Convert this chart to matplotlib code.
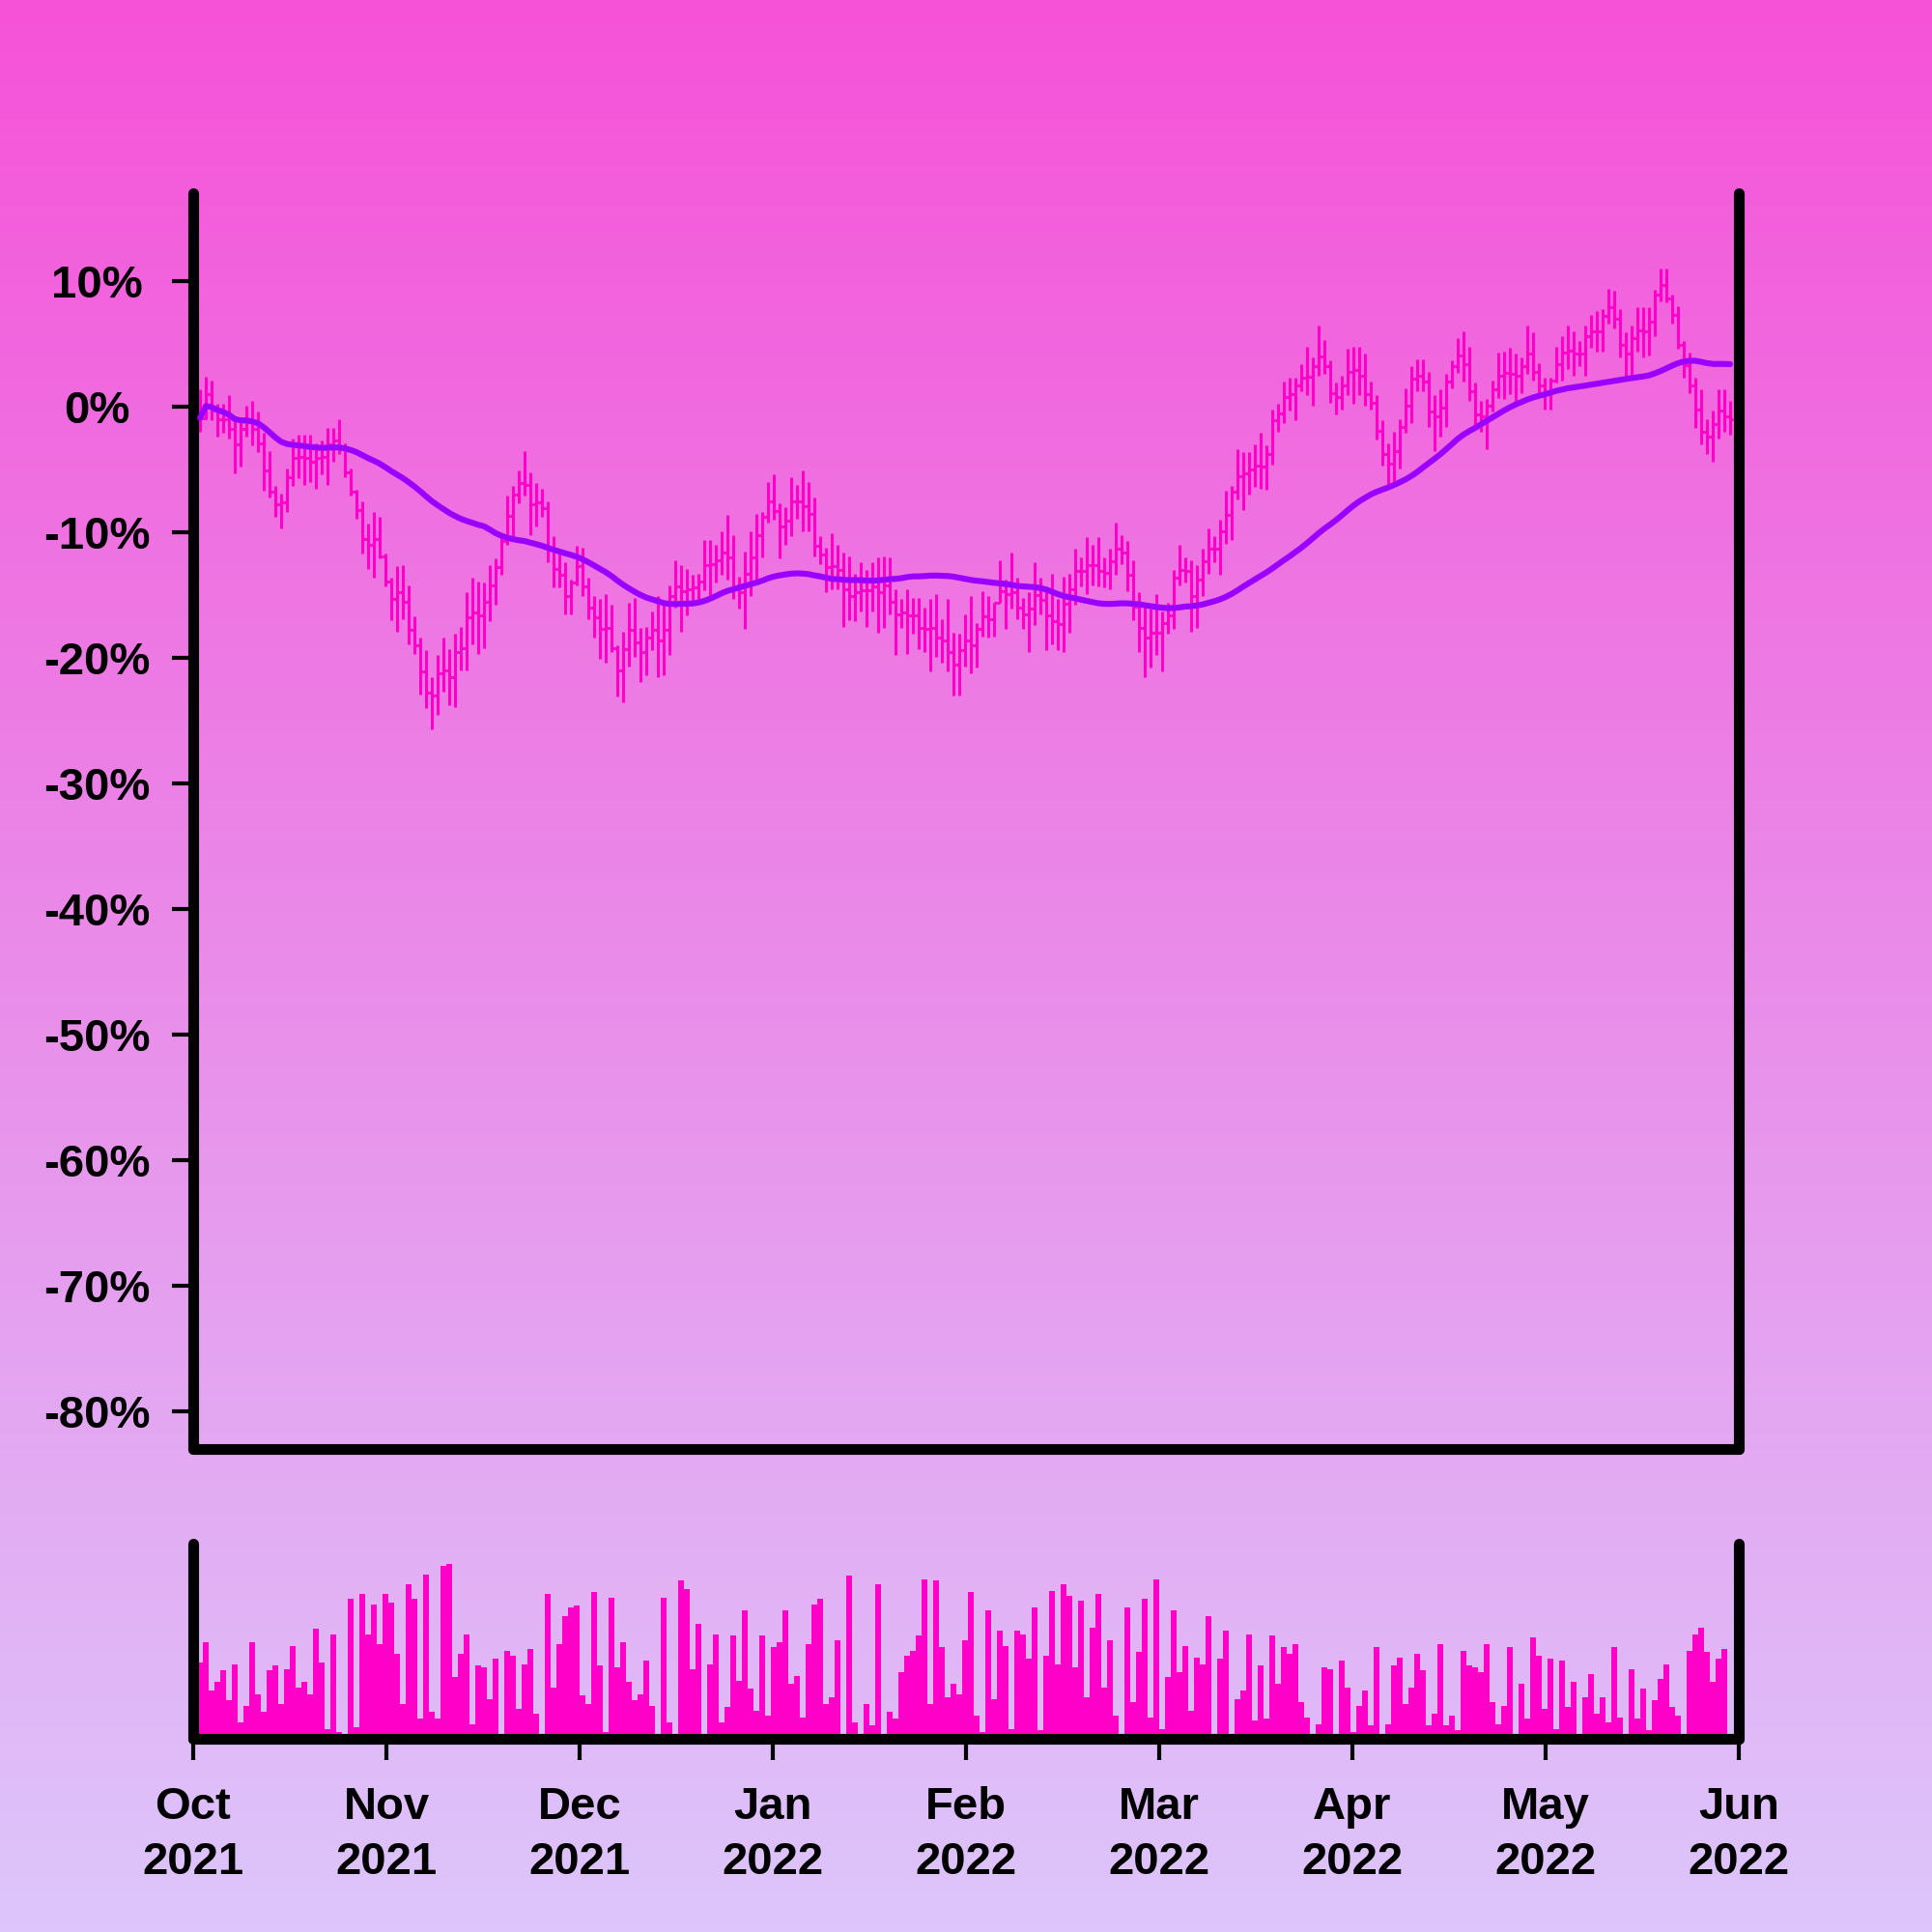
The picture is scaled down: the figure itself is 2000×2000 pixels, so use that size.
import numpy as np
import pandas as pd
import matplotlib
matplotlib.use("Agg")
import matplotlib.pyplot as plt
import matplotlib.colors as mcolors

plt.rcParams['font.family'] = ['Liberation Sans', 'DejaVu Sans']
plt.rcParams['font.weight'] = 'bold'

# daily bars, % change from start
highs = [1.4, 2.4, 2.1, 0.2, 0.2, 0.9, -1.0, -1.1, 0.1, 0.5,
         -0.4, -2.1, -3.5, -6.3, -6.9, -4.9, -2.5, -2.2, -2.2, -2.2,
         -2.9, -2.7, -1.7, -1.7, -1.0, -2.9, -4.9, -6.6, -7.5, -9.3,
         -8.4, -8.8, -11.7, -13.6, -12.7, -12.6, -14.2, -16.7, -18.4, -19.4,
         -21.5, -19.8, -18.4, -19.3, -18.1, -17.5, -14.8, -13.6, -13.9, -14.0,
         -12.6, -12.1, -10.4, -7.1, -6.3, -5.1, -3.5, -5.2, -6.1, -6.5,
         -7.5, -10.3, -11.5, -12.4, -13.8, -11.1, -11.2, -13.6, -15.1, -15.3,
         -14.9, -15.8, -19.0, -17.9, -15.6, -15.2, -17.6, -17.5, -16.3, -15.1,
         -15.8, -14.2, -12.2, -12.6, -12.9, -13.4, -13.3, -10.6, -10.6, -11.0,
         -9.9, -8.6, -10.2, -13.5, -11.5, -9.9, -8.5, -8.4, -6.0, -5.4,
         -7.7, -8.0, -5.6, -6.2, -5.1, -6.0, -7.2, -10.3, -11.2, -10.1,
         -11.0, -11.6, -11.9, -13.3, -12.4, -13.0, -12.4, -12.0, -11.9, -12.0,
         -14.5, -15.3, -14.5, -15.2, -15.2, -16.0, -15.3, -14.9, -16.9, -15.3,
         -18.0, -18.1, -16.5, -15.1, -17.2, -14.7, -15.1, -15.6, -12.2, -13.8,
         -11.6, -13.6, -15.2, -14.8, -12.4, -13.6, -14.3, -13.3, -15.3, -13.5,
         -13.3, -11.3, -12.0, -10.4, -11.0, -10.4, -12.0, -11.3, -9.2, -10.2,
         -10.7, -12.2, -14.8, -15.8, -16.1, -14.9, -16.3, -15.6, -13.0, -11.0,
         -12.0, -12.2, -12.6, -11.3, -9.7, -10.3, -9.0, -6.7, -6.3, -3.4,
         -3.6, -3.6, -3.0, -2.1, -3.1, -0.2, 0.2, 2.0, 2.3, 2.3,
         3.4, 4.8, 3.9, 6.5, 5.3, 3.7, 1.9, 2.5, 4.6, 4.8,
         4.8, 4.2, 2.0, 0.9, -1.1, -2.9, -2.0, -1.0, 1.5, 3.2,
         3.8, 3.8, 2.8, 0.9, 1.4, 2.6, 3.7, 5.5, 6.0, 4.8,
         1.9, 0.5, 0.6, 2.1, 4.3, 4.4, 4.7, 4.2, 3.9, 6.5,
         5.9, 3.5, 2.3, 2.3, 4.8, 5.6, 6.5, 6.0, 5.2, 6.5,
         7.3, 7.6, 7.8, 9.4, 9.2, 7.8, 5.9, 6.5, 7.9, 7.9,
         7.9, 9.3, 11.0, 11.0, 8.9, 8.0, 5.2, 4.3, 2.3, 1.4,
         -1.0, -0.3, 1.4, 1.4, 0.5]

lows = [-2.0, -1.0, -1.1, -2.4, -2.1, -2.5, -5.3, -4.8, -2.4, -3.1,
        -3.6, -6.7, -7.2, -8.8, -9.7, -8.4, -6.3, -5.7, -6.2, -6.0,
        -6.5, -5.4, -6.2, -4.4, -3.8, -5.6, -7.1, -8.9, -11.7, -12.9,
        -13.6, -12.1, -14.3, -17.0, -17.9, -16.9, -18.9, -19.7, -22.9, -24.0,
        -25.7, -24.5, -22.7, -23.8, -23.9, -21.0, -21.0, -18.9, -19.7, -19.2,
        -17.1, -15.8, -13.4, -11.0, -10.4, -7.7, -7.1, -10.2, -9.5, -8.8,
        -12.4, -14.4, -14.4, -16.5, -16.5, -14.2, -15.1, -16.9, -18.4, -20.1,
        -20.4, -19.5, -23.1, -23.5, -20.7, -19.9, -21.9, -21.4, -19.4, -21.5,
        -21.4, -19.8, -16.0, -17.9, -16.6, -15.6, -15.4, -14.6, -15.3, -14.0,
        -13.4, -13.8, -15.3, -16.1, -17.7, -15.1, -14.0, -12.0, -9.2, -9.0,
        -12.1, -11.0, -10.3, -8.9, -9.9, -9.9, -11.9, -12.5, -14.8, -14.5,
        -14.5, -17.5, -17.0, -17.1, -16.3, -17.5, -16.3, -18.0, -17.6, -16.5,
        -19.8, -17.6, -19.7, -18.1, -19.3, -19.5, -21.1, -19.9, -20.4, -21.1,
        -23.0, -23.0, -20.7, -21.2, -20.8, -18.3, -18.4, -18.3, -15.6, -17.7,
        -16.1, -16.9, -17.7, -19.5, -17.4, -16.5, -19.4, -18.9, -19.4, -19.5,
        -18.0, -15.8, -14.3, -14.9, -14.2, -14.3, -14.4, -14.5, -13.4, -12.5,
        -14.7, -17.0, -19.5, -21.5, -20.8, -19.8, -21.1, -18.1, -17.7, -14.2,
        -14.0, -17.9, -17.6, -15.1, -13.3, -12.4, -13.4, -10.9, -10.6, -7.4,
        -8.2, -7.0, -6.4, -6.5, -6.6, -4.6, -2.0, -1.3, -0.3, -1.1,
        1.2, 0.9, 0.1, 2.5, 2.6, 0.3, -0.6, -0.2, 0.9, 0.2,
        0.9, 0.1, -0.2, -2.6, -4.7, -6.3, -6.2, -4.9, -2.1, -1.3,
        1.2, 1.2, -1.6, -3.5, -2.4, -1.6, 1.5, 2.7, 2.0, 0.5,
        -1.6, -2.0, -3.4, -0.4, 0.7, 0.6, 1.0, 0.2, 1.1, 2.6,
        2.1, 1.1, -0.2, -0.2, 1.9, 2.1, 3.0, 2.5, 3.2, 2.5,
        4.7, 4.4, 4.4, 6.6, 6.2, 3.9, 2.4, 2.5, 4.4, 3.9,
        4.1, 5.6, 8.4, 8.3, 6.6, 4.6, 2.3, 1.1, -1.7, -3.0,
        -3.8, -4.4, -2.5, -2.0, -2.2]

closes = [-0.9, 1.0, -0.2, -1.0, -1.0, -1.8, -3.0, -1.8, -1.2, -1.8,
          -2.9, -5.1, -6.8, -7.8, -7.6, -5.6, -4.1, -4.0, -4.1, -4.4,
          -4.1, -4.0, -3.0, -2.7, -3.3, -5.2, -6.8, -8.2, -10.5, -11.0,
          -10.5, -11.9, -13.9, -15.3, -14.8, -15.5, -17.8, -19.0, -21.1, -22.8,
          -23.0, -21.2, -21.0, -21.5, -19.5, -19.2, -16.8, -16.4, -16.6, -15.5,
          -14.2, -12.8, -10.7, -8.7, -7.0, -6.1, -6.2, -7.8, -7.6, -8.1,
          -11.3, -12.9, -13.4, -15.1, -14.0, -12.7, -14.3, -16.0, -16.8, -17.7,
          -17.6, -19.2, -21.0, -19.3, -17.8, -18.8, -19.5, -18.4, -17.8, -18.6,
          -17.8, -15.1, -14.3, -14.7, -14.5, -14.4, -13.9, -12.6, -12.5, -12.2,
          -11.6, -12.0, -14.4, -14.8, -13.3, -12.0, -10.2, -8.8, -7.5, -8.3,
          -9.5, -9.1, -7.5, -7.5, -7.9, -8.5, -11.1, -11.8, -12.8, -12.7,
          -13.0, -14.5, -15.1, -14.8, -14.6, -14.6, -14.3, -14.8, -14.2, -15.5,
          -16.5, -16.4, -16.6, -16.6, -17.6, -17.7, -17.6, -18.4, -18.6, -19.5,
          -20.5, -19.4, -18.6, -19.0, -17.7, -16.7, -16.9, -15.6, -14.7, -14.9,
          -14.8, -16.0, -16.5, -16.1, -15.0, -15.4, -16.6, -17.1, -17.3, -15.7,
          -14.5, -13.1, -13.1, -12.6, -12.6, -13.1, -13.2, -12.3, -11.3, -11.6,
          -13.4, -15.9, -17.6, -18.4, -18.0, -18.0, -17.2, -16.6, -13.6, -13.0,
          -13.1, -15.1, -13.8, -12.3, -11.3, -11.3, -9.9, -8.6, -6.8, -5.5,
          -5.3, -5.0, -4.7, -4.8, -3.8, -1.1, -0.5, 0.8, 1.0, 1.7,
          2.3, 2.4, 3.2, 4.0, 3.2, 1.1, 0.8, 1.7, 2.8, 2.9,
          2.5, 1.0, 0.3, -1.9, -3.8, -4.5, -3.5, -1.6, 0.1, 2.2,
          2.5, 2.0, -0.4, -0.8, -0.1, 2.0, 3.2, 4.1, 3.4, 1.2,
          -0.6, -0.8, 0.1, 1.4, 2.5, 2.7, 2.6, 2.5, 3.2, 4.2,
          2.8, 1.7, 1.0, 2.1, 3.4, 4.3, 4.5, 4.2, 4.2, 5.6,
          6.0, 6.0, 7.2, 7.9, 7.0, 4.9, 4.2, 5.5, 6.1, 6.0,
          6.8, 8.9, 9.7, 8.6, 7.3, 4.9, 3.3, 1.7, -0.2, -2.0,
          -2.4, -1.4, -0.3, -0.8, -1.0]

volumes = [46, 58, 29, 34, 41, 23, 45, 10, 20, 58,
           27, 16, 41, 44, 21, 42, 56, 31, 34, 27,
           66, 46, 6, 63, 4, 3, 84, 7, 87, 63,
           81, 57, 87, 82, 51, 21, 93, 84, 12, 99,
           16, 12, 104, 105, 37, 51, 63, 9, 44, 43,
           24, 48, 0.5, 53, 50, 18, 45, 54, 15, 0,
           87, 31, 57, 74, 79, 80, 26, 21, 88, 44,
           4, 85, 43, 58, 34, 23, 27, 47, 20, 1,
           85, 10, 0, 95, 90, 42, 69, 1, 45, 63,
           10, 19, 62, 35, 77, 30, 17, 62, 14, 55,
           58, 77, 33, 38, 13, 57, 81, 84, 21, 25,
           59, 1, 98, 10, 0, 21, 8, 93, 3, 16,
           12, 40, 50, 53, 62, 96, 21, 95, 55, 25,
           33, 27, 59, 88, 14, 4, 77, 24, 65, 56,
           6, 65, 63, 48, 79, 5, 50, 89, 45, 93,
           86, 43, 83, 25, 67, 87, 31, 59, 14, 1,
           79, 22, 52, 84, 13, 96, 6, 37, 77, 40,
           56, 17, 49, 45, 74, 3, 48, 65, 2, 24,
           29, 63, 11, 44, 12, 62, 33, 55, 51, 57,
           22, 13, 0, 9, 43, 42, 1, 47, 31, 4,
           20, 29, 8, 55, 0, 9, 44, 49, 21, 31,
           51, 41, 8, 15, 57, 8, 14, 5, 53, 44,
           43, 40, 57, 22, 9, 20, 55, 2, 33, 12,
           61, 50, 18, 48, 6, 47, 19, 34, 0.4, 25,
           39, 15, 25, 10, 55, 13, 0.4, 42, 12, 30,
           5, 23, 36, 45, 19, 14, 0, 53, 63, 67,
           52, 34, 48, 54, 3]

month_labels = ["Oct\n2021", "Nov\n2021", "Dec\n2021", "Jan\n2022", "Feb\n2022",
                "Mar\n2022", "Apr\n2022", "May\n2022", "Jun\n2022"]
y_ticks = [10, 0, -10, -20, -30, -40, -50, -60, -70, -80]

BAR_COLOR = '#ff00c8'
MA_COLOR = '#9a00ff'

n = len(closes)
x = np.arange(n)
opens = [0.0] + closes[:-1]
ma = pd.Series(closes).rolling(50, min_periods=1).mean()
x_lo, x_hi = -1.18, 265.5

fig = plt.figure(figsize=(10, 10), dpi=200)

# gradient background
bg = fig.add_axes([0, 0, 1, 1], zorder=-10)
cmap = mcolors.LinearSegmentedColormap.from_list('bg', ['#f652d8', '#ddc6fb'])
bg.imshow(np.linspace(0, 1, 256)[:, None], aspect='auto', cmap=cmap, extent=[0, 1, 0, 1])
bg.axis('off')

ax = fig.add_axes([0.1, 0.25, 0.8, 0.65])
axv = fig.add_axes([0.1, 0.1, 0.8, 0.101])

# price bars
ax.vlines(x, lows, highs, color=BAR_COLOR, lw=1.1)
ax.hlines(opens, x - 0.5, x, color=BAR_COLOR, lw=1.1)
ax.hlines(closes, x, x + 0.5, color=BAR_COLOR, lw=1.1)
ax.plot(x, ma, color=MA_COLOR, lw=2.2, zorder=3, solid_capstyle='round')

ax.set_xlim(x_lo, x_hi)
ax.set_ylim(-83, 17)
ax.set_xticks([])
ax.set_yticks(y_ticks)
ax.set_yticklabels([f"{v}%" for v in y_ticks])
ax.tick_params(axis='y', length=8, width=1.5, pad=28, labelsize=17)
for lbl in ax.get_yticklabels():
    lbl.set_horizontalalignment('center')
    lbl.set_fontweight('bold')

# volume
axv.bar(x, volumes, width=1.0, color=BAR_COLOR, linewidth=0)
axv.set_xlim(x_lo, x_hi)
axv.set_ylim(0, 117.3)
axv.set_yticks([])
axv.set_xticks(np.linspace(x_lo, x_hi, 9))
axv.set_xticklabels(month_labels, linespacing=1.4)
axv.tick_params(axis='x', length=8, width=1.5, pad=9.5, labelsize=17)
for lbl in axv.get_xticklabels():
    lbl.set_fontweight('bold')

for a in (ax, axv):
    a.set_facecolor('none')
    a.spines['top'].set_visible(False)
    for s in ('left', 'right', 'bottom'):
        a.spines[s].set_linewidth(4)
        a.spines[s].set_color('black')
        a.spines[s].set_capstyle('round')

fig.savefig('out.png', dpi=200)
